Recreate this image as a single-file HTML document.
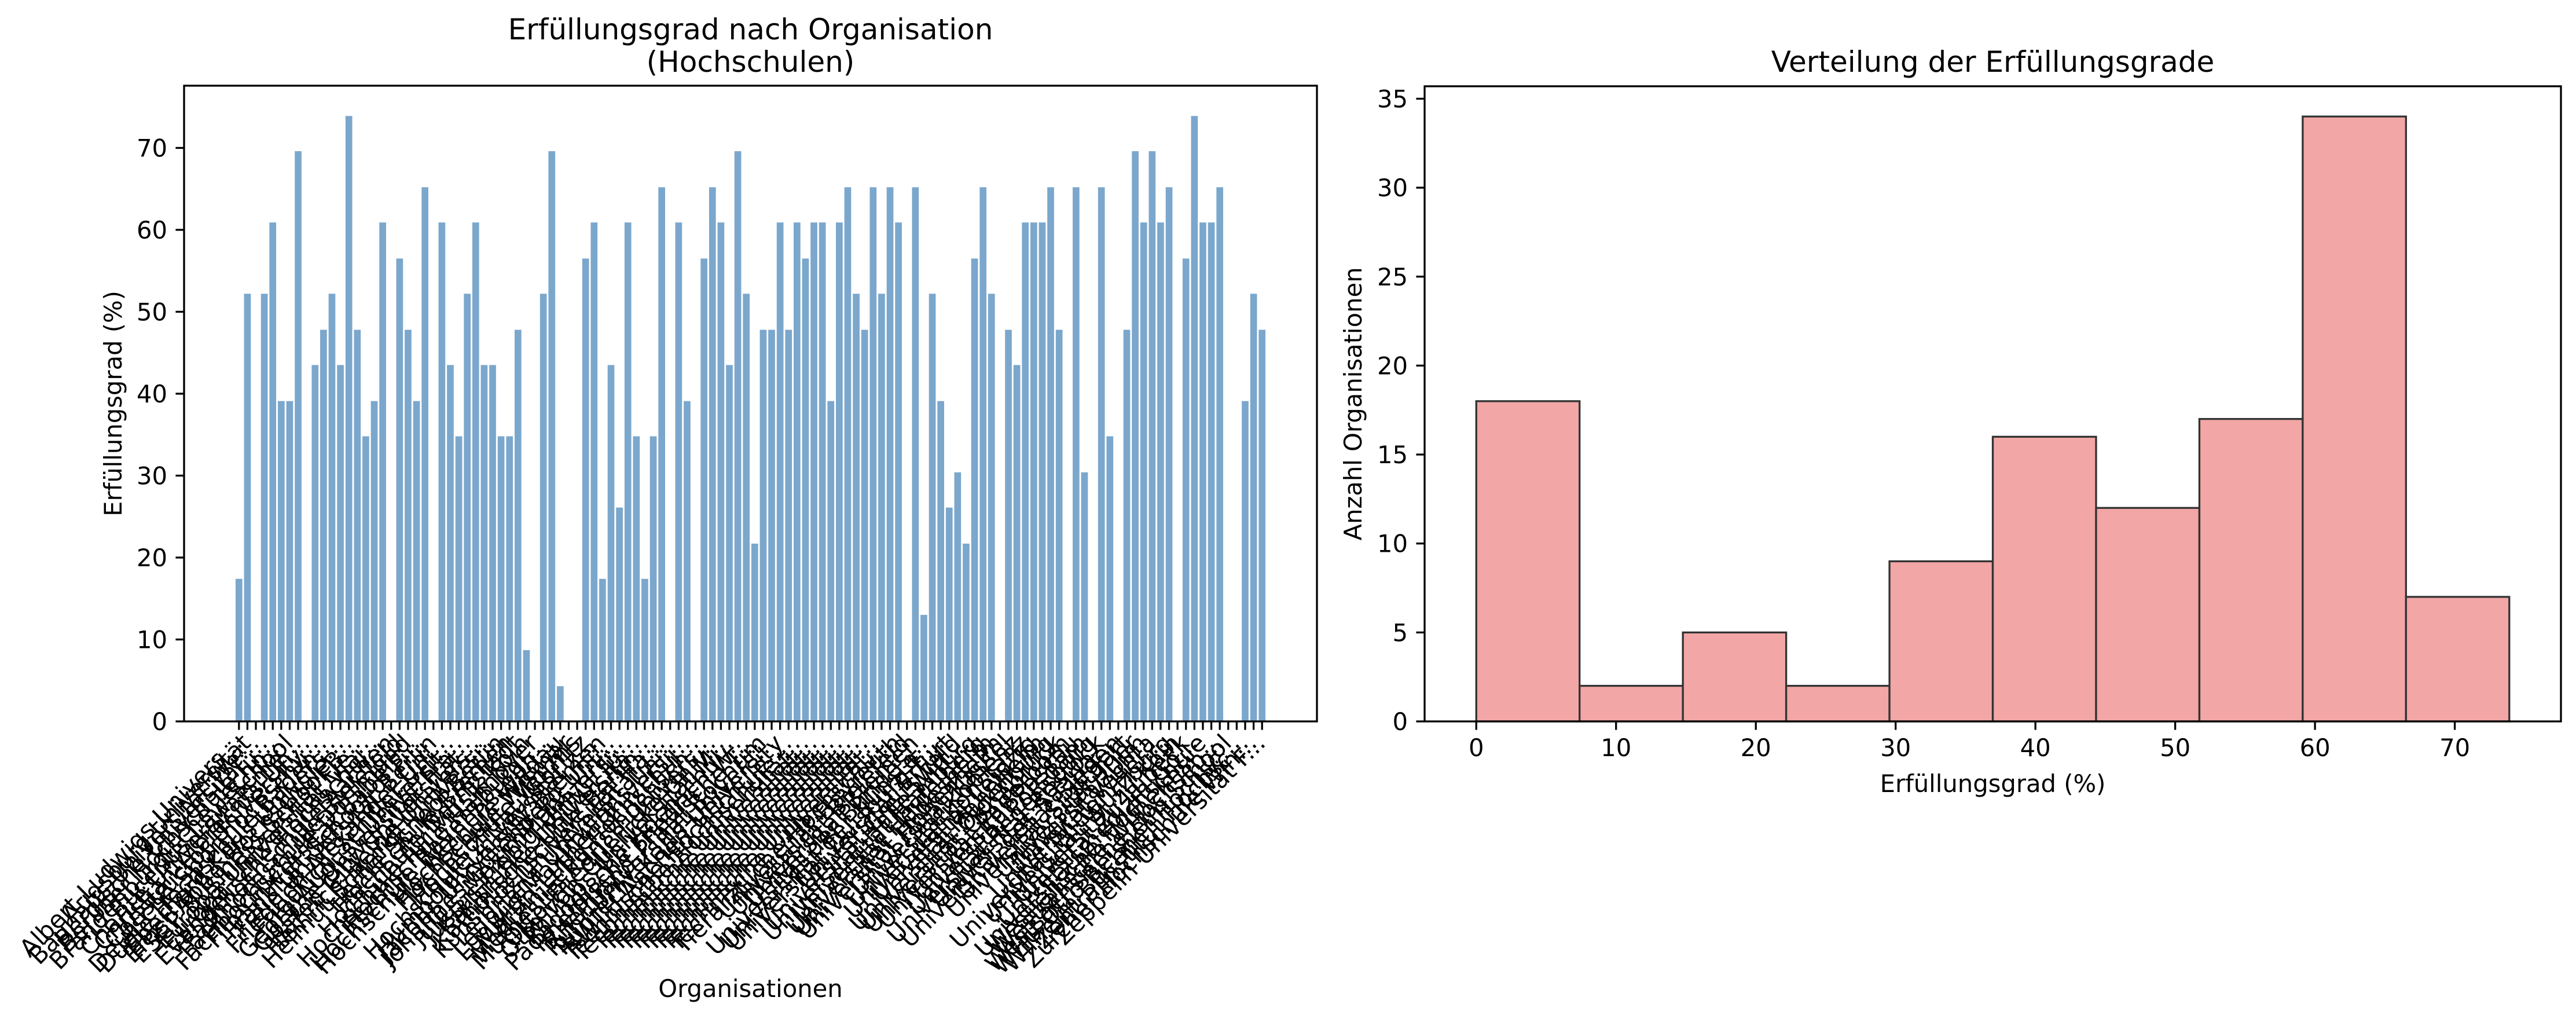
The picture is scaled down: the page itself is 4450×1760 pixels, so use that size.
<!DOCTYPE html>
<html><head><meta charset="utf-8"><style>
html,body{margin:0;padding:0;background:#fff;}
svg{display:block;font-family:"DejaVu Sans","Liberation Sans",sans-serif;}
</style></head><body>
<svg id="fig" width="4450" height="1760" viewBox="0 0 4450 1760" xmlns="http://www.w3.org/2000/svg">
<rect width="4450" height="1760" fill="#fff"/>
<g id="left"></g>
<g id="right"></g>
</svg>
<script>
const orgNames = ["Albert-Ludwigs-Universität Freiburg","Augsburg Universität","Bauhaus-Universität Weimar","Bergische Universität Wuppertal","Berliner Hochschule für Technik","Brandenburgische Technische Universität","Bucerius Law School","Charité Universitätsmedizin Berlin","Christian-Albrechts-Universität","Constructor University Bremen","Deutsche Sporthochschule Köln","Duale Hochschule Baden-Württemberg","Eberhard Karls Universität Tübingen","Ernst-Abbe-Hochschule Jena","ESCP Business School Berlin","Europa-Universität Flensburg","Europa-Universität Viadrina","Evangelische Hochschule Dresden","Fachhochschule Aachen","Fachhochschule Bielefeld","Fachhochschule Dortmund","Filmuniversität Babelsberg","Frankfurt School of Finance","Freie Universität Berlin","Friedrich-Alexander-Universität","Friedrich-Schiller-Universität Jena","Georg-August-Universität Göttingen","Goethe-Universität Frankfurt","Hafen City Universität Hamburg","Heinrich-Heine-Universität","Helmut-Schmidt-Universität","Hertie School Berlin","Hochschule Bremen","Hochschule Darmstadt","Hochschule für Musik Köln","Hochschule Hannover","Hochschule Ravensburg-Weingarten","Hochschule Weihenstephan-Triesdorf","Hochschule Wildau","Hochschule Wismar","Hochschule Worms","Hochschule Zittau/Görlitz","Humboldt-Universität zu Berlin","Jacobs University Bremen","Johannes Gutenberg-Universität","Julius-Maximilians-Universität","Justus-Liebig-Universität Gießen","Karlsruher Institut für Technologie","Katholische Universität Eichstätt","Kunsthochschule Berlin-Weißensee","Leibniz Universität Hannover","Leuphana Universität Lüneburg","Ludwig-Maximilians-Universität","Martin-Luther-Universität Halle","Medizinische Hochschule Hannover","Muthesius Kunsthochschule Kiel","Otto-Friedrich-Universität Bamberg","Otto-von-Guericke-Universität","Philipps-Universität Marburg","Pädagogische Hochschule Freiburg","Rheinische Friedrich-Wilhelms-Universität","Rheinland-Pfälzische Technische Universität","Ruhr-Universität Bochum","Ruprecht-Karls-Universität Heidelberg","RWTH Aachen University","Technische Hochschule Köln","Technische Hochschule Nürnberg","Technische Universität Berlin","Technische Universität Braunschweig","Technische Universität Chemnitz","Technische Universität Clausthal","Technische Universität Darmstadt","Technische Universität Dortmund","Technische Universität Dresden","Technische Universität Hamburg","Technische Universität Ilmenau","Technische Universität München","Tierärztliche Hochschule Hannover","Universität Bayreuth","Universität Bielefeld","Universität Bremen","Universität der Bundeswehr München","Universität der Künste Berlin","Universität Duisburg-Essen","Universität Erfurt","Universität Greifswald","Universität Halle-Wittenberg","Universität Hamburg","Universität Heidelberg","Universität Hildesheim","Universität Hohenheim","Universität Kassel","Universität Koblenz","Universität Konstanz","Universität Leipzig","Universität Mannheim","Universität Oldenburg","Universität Osnabrück","Universität Paderborn","Universität Passau","Universität Potsdam","Universität Regensburg","Universität Rostock","Universität des Saarlandes","Universität Siegen","Universität Stuttgart","Universität Trier","Universität Ulm","Universität Vechta","Universität Witten/Herdecke","Universität Würzburg","Universität zu Köln","Universität zu Lübeck","Universitätsmedizin Göttingen","Westfälische Hochschule","Westfälische Wilhelms-Universität","Westsächsische Hochschule Zwickau","WHU Otto Beisheim School","Wilhelm Büchner Hochschule","Zentralinstitut Hochschulen","Zürcher Hochschule Winterthur","Zeppelin Universität Friedrichshafen"];
const orgValues = [17.4,52.2,0,52.2,60.9,39.1,39.1,69.6,0,43.5,47.8,52.2,43.5,73.9,47.8,34.8,39.1,60.9,0,56.5,47.8,39.1,65.2,0,60.9,43.5,34.8,52.2,60.9,43.5,43.5,34.8,34.8,47.8,8.7,0,52.2,69.6,4.3,0,0,56.5,60.9,17.4,43.5,26.1,60.9,34.8,17.4,34.8,65.2,0,60.9,39.1,0,56.5,65.2,60.9,43.5,69.6,52.2,21.7,47.8,47.8,60.9,47.8,60.9,56.5,60.9,60.9,39.1,60.9,65.2,52.2,47.8,65.2,52.2,65.2,60.9,0,65.2,13.0,52.2,39.1,26.1,30.4,21.7,56.5,65.2,52.2,0,47.8,43.5,60.9,60.9,60.9,65.2,47.8,0,65.2,30.4,0,65.2,34.8,0,47.8,69.6,60.9,69.6,60.9,65.2,0,56.5,73.9,60.9,60.9,65.2,0,0,39.1,52.2,47.8];
const leftYTicks = [0,10,20,30,40,50,60,70];
const histCounts = [18,2,5,2,9,16,12,17,34,7];
const histMin = 0, histMax = 73.9;
const rightXTicks = [0,10,20,30,40,50,60,70];
const rightYTicks = [0,5,10,15,20,25,30,35];

const NS="http://www.w3.org/2000/svg";
function mk(p,t,a,txt){const e=document.createElementNS(NS,t);for(const k in a)e.setAttribute(k,a[k]);if(txt!==undefined)e.textContent=txt;p.appendChild(e);return e;}
const FS=41.7;
// LEFT
const L=document.getElementById('left');
const lx0=318,lx1=2275,ly0=148,ly1=1246;
const n=orgValues.length;
const xmin=-0.4-0.05*(n-1+0.8), xmax=(n-1)+0.4+0.05*(n-1+0.8);
const ymaxL=Math.max(...orgValues)*1.05;
const xL=i=>lx0+(i-xmin)/(xmax-xmin)*(lx1-lx0);
const yL=v=>ly1-v/ymaxL*(ly1-ly0);
const bw=0.8*(lx1-lx0)/(xmax-xmin);
orgValues.forEach((v,i)=>{
  const r=mk(L,'rect',{x:xL(i)-bw/2,y:yL(v),width:bw,height:ly1-yL(v),fill:'#7ba7cc'});
  
  
});
mk(L,'rect',{x:lx0,y:ly0,width:lx1-lx0,height:ly1-ly0,fill:'none',stroke:'#000','stroke-width':3.3,});
leftYTicks.forEach(t=>{
  const y=yL(t);
  mk(L,'line',{x1:lx0-14.6,x2:lx0,y1:y,y2:y,stroke:'#000','stroke-width':3.3});
  const tx=mk(L,'text',{x:lx0-29,y:y+15,'text-anchor':'end','font-size':FS},String(t));
  
  
});
orgNames.slice(0,n).forEach((nm,i)=>{
  const x=xL(i);
  mk(L,'line',{x1:x,x2:x,y1:ly1,y2:ly1+14.6,stroke:'#000','stroke-width':3.3});
  const lab=nm.length>25?nm.slice(0,22)+'...':nm;
  const tx=mk(L,'text',{x:x+8,y:ly1+40,'text-anchor':'end','font-size':FS,transform:`rotate(-45 ${x+8} ${ly1+40})`},lab);
  
  
});
mk(L,'text',{x:(lx0+lx1)/2,y:68,'text-anchor':'middle','font-size':50,},'Erfüllungsgrad nach Organisation');
mk(L,'text',{x:(lx0+lx1)/2,y:124,'text-anchor':'middle','font-size':50,},'(Hochschulen)');
mk(L,'text',{x:210,y:(ly0+ly1)/2,'text-anchor':'middle','font-size':FS,transform:`rotate(-90 210 ${(ly0+ly1)/2})`,},'Erfüllungsgrad (%)');
mk(L,'text',{x:(lx0+lx1)/2,y:1722,'text-anchor':'middle','font-size':FS,},'Organisationen');

// RIGHT
const R=document.getElementById('right');
const rx0=2461,rx1=4424,ry0=149,ry1=1246;
const span=histMax-histMin;
const rxmin=histMin-0.05*span, rxmax=histMax+0.05*span;
const rymax=Math.max(...histCounts)*1.05;
const xR=v=>rx0+(v-rxmin)/(rxmax-rxmin)*(rx1-rx0);
const yR=v=>ry1-v/rymax*(ry1-ry0);
const binW=span/histCounts.length;
histCounts.forEach((c,i)=>{
  const a=histMin+i*binW,b=a+binW;
  const r=mk(R,'rect',{x:xR(a),y:yR(c),width:xR(b)-xR(a),height:ry1-yR(c),fill:'#f2a6a6',stroke:'#333','stroke-width':3.3});
  
  
});
mk(R,'rect',{x:rx0,y:ry0,width:rx1-rx0,height:ry1-ry0,fill:'none',stroke:'#000','stroke-width':3.3,});
rightXTicks.forEach(t=>{
  const x=xR(t);
  mk(R,'line',{x1:x,x2:x,y1:ry1,y2:ry1+14.6,stroke:'#000','stroke-width':3.3});
  const tx=mk(R,'text',{x:x,y:ry1+60,'text-anchor':'middle','font-size':FS},String(t));
  
  
});
rightYTicks.forEach(t=>{
  const y=yR(t);
  mk(R,'line',{x1:rx0-14.6,x2:rx0,y1:y,y2:y,stroke:'#000','stroke-width':3.3});
  const tx=mk(R,'text',{x:rx0-29,y:y+15,'text-anchor':'end','font-size':FS},String(t));
  
  
});
mk(R,'text',{x:(rx0+rx1)/2,y:124,'text-anchor':'middle','font-size':50,},'Verteilung der Erfüllungsgrade');
mk(R,'text',{x:2352,y:(ry0+ry1)/2,'text-anchor':'middle','font-size':FS,transform:`rotate(-90 2352 ${(ry0+ry1)/2})`,},'Anzahl Organisationen');
mk(R,'text',{x:(rx0+rx1)/2,y:1368,'text-anchor':'middle','font-size':FS,},'Erfüllungsgrad (%)');
</script>
</body></html>
